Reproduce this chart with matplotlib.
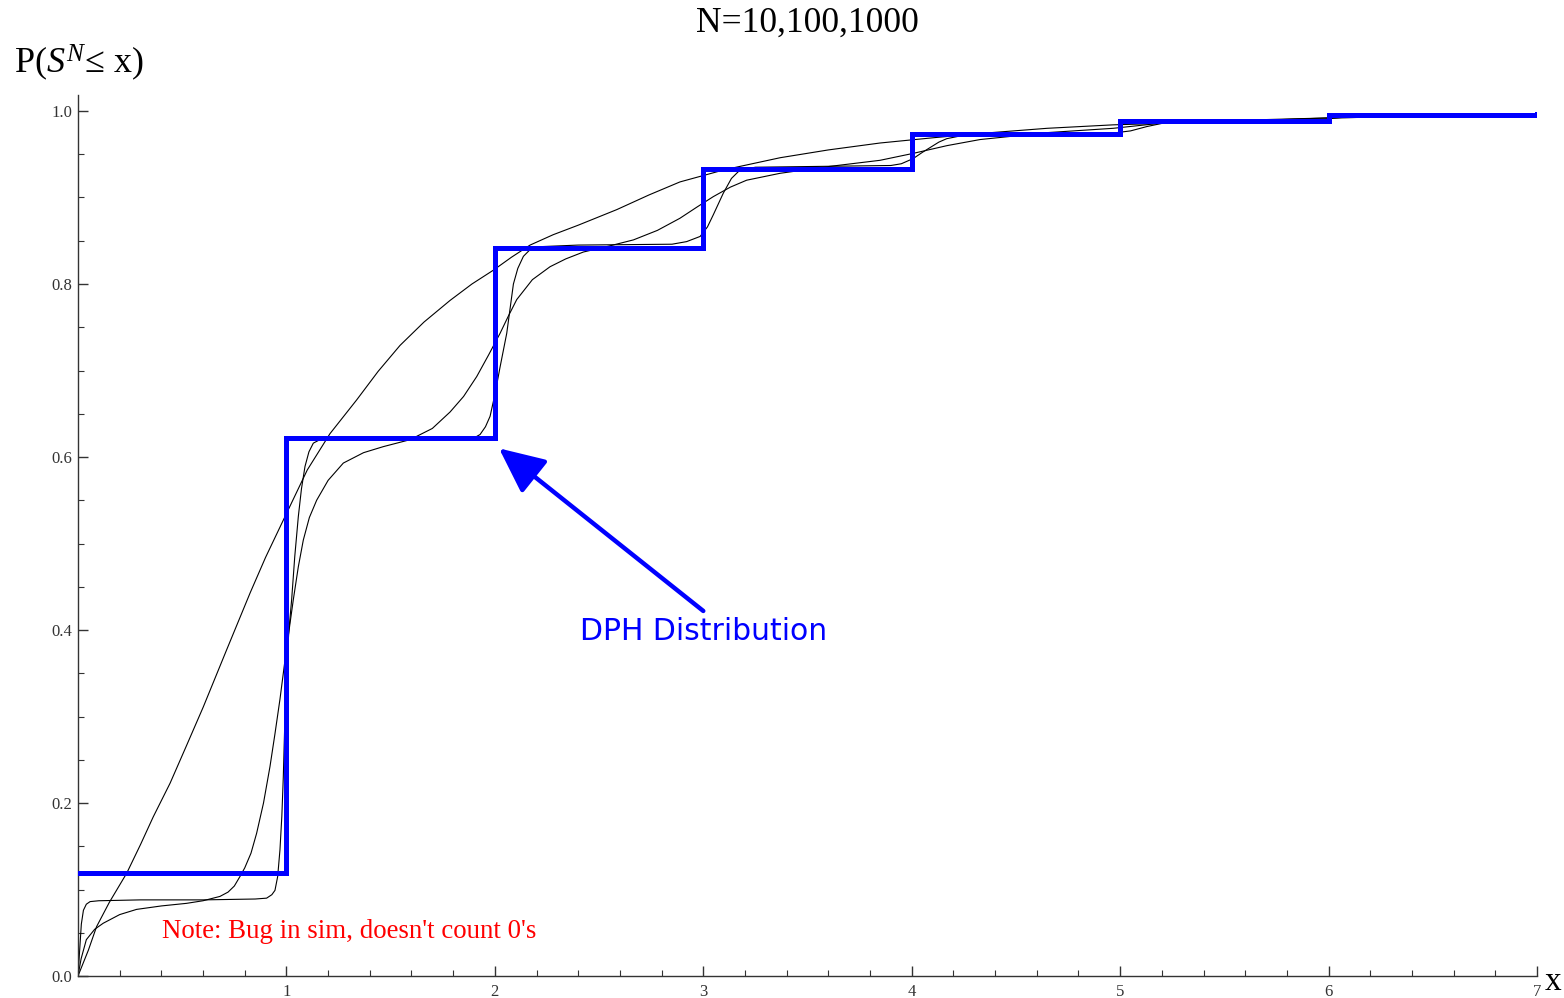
import numpy as np
import matplotlib
matplotlib.use("Agg")
from matplotlib import pyplot as plt
from matplotlib.ticker import MultipleLocator

plt.rcParams['font.family'] = ['Liberation Serif', 'DejaVu Serif']
plt.rcParams['mathtext.fontset'] = 'custom'
plt.rcParams['mathtext.rm'] = 'Liberation Serif'
plt.rcParams['mathtext.it'] = 'Liberation Serif:italic'

# DPH step distribution, value on [k, k+1)
step_x = [0, 1, 2, 3, 4, 5, 6, 7]
step_y = [0.119, 0.622, 0.842, 0.933, 0.973, 0.988, 0.995, 0.996]

# simulated CDFs
n10_x = [0, 0.05, 0.089, 0.15, 0.234, 0.3, 0.361, 0.442, 0.52, 0.601, 0.713, 0.826, 0.9,
         0.985, 1.1, 1.209, 1.337, 1.44, 1.545, 1.66, 1.785, 1.89, 1.993, 2.08, 2.169,
         2.28, 2.4, 2.585, 2.74, 2.888, 3.1, 3.369, 3.6, 3.848, 4.1, 4.328, 4.65, 4.967,
         5.528, 6.0, 6.5, 7.0]
n10_y = [0, 0.03, 0.057, 0.085, 0.119, 0.152, 0.184, 0.223, 0.266, 0.311, 0.377, 0.443,
         0.484, 0.527, 0.585, 0.627, 0.666, 0.699, 0.729, 0.756, 0.781, 0.8, 0.816, 0.831,
         0.845, 0.857, 0.868, 0.886, 0.903, 0.918, 0.932, 0.946, 0.955, 0.963, 0.969,
         0.974, 0.98, 0.984, 0.988, 0.992, 0.994, 0.996]

n100_x = [0, 0.015, 0.04, 0.08, 0.121, 0.2, 0.281, 0.4, 0.521, 0.6, 0.681, 0.72, 0.75,
          0.777, 0.8, 0.83, 0.857, 0.89, 0.921, 0.945, 0.969, 1.0, 1.033, 1.057, 1.081,
          1.11, 1.145, 1.2, 1.273, 1.37, 1.465, 1.593, 1.7, 1.785, 1.85, 1.913, 1.97,
          2.025, 2.065, 2.105, 2.18, 2.265, 2.34, 2.425, 2.55, 2.665, 2.78, 2.888, 2.97,
          3.048, 3.13, 3.208, 3.369, 3.608, 3.848, 4.007, 4.17, 4.328, 4.65, 4.967, 5.2,
          5.528, 6.0, 7.0]
n100_y = [0, 0.02, 0.042, 0.054, 0.061, 0.071, 0.077, 0.081, 0.084, 0.087, 0.092, 0.097,
          0.104, 0.115, 0.125, 0.142, 0.165, 0.2, 0.242, 0.28, 0.32, 0.378, 0.435, 0.473,
          0.504, 0.53, 0.55, 0.573, 0.593, 0.605, 0.612, 0.62, 0.633, 0.652, 0.67, 0.693,
          0.718, 0.743, 0.763, 0.782, 0.805, 0.82, 0.829, 0.837, 0.844, 0.851, 0.862,
          0.876, 0.889, 0.901, 0.912, 0.92, 0.928, 0.936, 0.943, 0.951, 0.96, 0.967,
          0.975, 0.98, 0.986, 0.989, 0.992, 0.996]

n1000_x = [0, 0.008, 0.016, 0.026, 0.04, 0.058, 0.1, 0.3, 0.6, 0.85, 0.905, 0.93, 0.945,
           0.958, 0.969, 0.978, 0.985, 0.993, 1.001, 1.012, 1.025, 1.04, 1.057, 1.072,
           1.089, 1.108, 1.129, 1.16, 1.2, 1.9, 1.929, 1.955, 1.977, 2.0, 2.025, 2.057,
           2.089, 2.11, 2.137, 2.17, 2.201, 2.4, 2.85, 2.92, 2.985, 3.02, 3.048, 3.096,
           3.135, 3.177, 3.25, 3.9, 3.95, 4.007, 4.05, 4.09, 4.13, 4.168, 4.25, 4.95,
           5.05, 5.128, 5.207, 5.3, 5.9, 6.0, 6.08, 6.2, 7.0]
n1000_y = [0, 0.03, 0.06, 0.076, 0.083, 0.086, 0.087, 0.088, 0.088, 0.089, 0.09, 0.094,
           0.099, 0.115, 0.146, 0.185, 0.23, 0.3, 0.358, 0.4, 0.435, 0.485, 0.531, 0.563,
           0.589, 0.606, 0.616, 0.62, 0.621, 0.622, 0.626, 0.635, 0.647, 0.672, 0.704,
           0.743, 0.8, 0.818, 0.832, 0.84, 0.843, 0.845, 0.846, 0.849, 0.855, 0.866, 0.88,
           0.905, 0.922, 0.932, 0.935, 0.937, 0.939, 0.945, 0.952, 0.958, 0.964, 0.968,
           0.972, 0.974, 0.977, 0.982, 0.986, 0.988, 0.989, 0.991, 0.993, 0.994, 0.996]

fig = plt.figure(figsize=(15.64, 9.98), dpi=100)
ax = fig.add_axes([78 / 1564, 22 / 998, 1459 / 1564, 881 / 998])

for xs, ys in [(n10_x, n10_y), (n100_x, n100_y), (n1000_x, n1000_y)]:
    ax.plot(xs, ys, color='black', lw=0.8, zorder=2, solid_joinstyle='round')

ax.step(step_x, step_y, where='post', color='#0000ff', lw=3.6, zorder=3,
        solid_joinstyle='miter')

ax.set_xlim(0, 7)
ax.set_ylim(0, 881 / 865)

for s in ['top', 'right']:
    ax.spines[s].set_visible(False)
for s in ['left', 'bottom']:
    ax.spines[s].set_color('#333333')
    ax.spines[s].set_linewidth(1.0)

ax.xaxis.set_minor_locator(MultipleLocator(0.2))
ax.yaxis.set_minor_locator(MultipleLocator(0.05))
ax.set_yticks([0, 0.2, 0.4, 0.6, 0.8, 1.0])
ax.set_yticklabels(['0.0', '0.2', '0.4', '0.6', '0.8', '1.0'])
ax.set_xticks([1, 2, 3, 4, 5, 6, 7])
ax.tick_params(which='major', direction='in', length=7, width=1, color='#333333',
               labelsize=12, labelcolor='#333333')
ax.tick_params(axis='x', which='major', pad=6)
ax.tick_params(axis='y', which='major', pad=4)
ax.tick_params(which='minor', direction='in', length=4, width=0.8, color='#333333')

fig.text(807 / 1564, 1 - 23 / 998, 'N=10,100,1000', ha='center', va='center',
         fontsize=25.5)
fig.text(14 / 1564, 1 - 63 / 998, r'P($S^{N}$' + '\u2264 x)', ha='left', va='center',
         fontsize=26)
fig.text(1545 / 1564, 1 - 982 / 998, 'x', ha='left', va='center', fontsize=24)

ax.annotate('', xy=(2.02, 0.61), xytext=(3.0, 0.422),
            arrowprops=dict(arrowstyle='-|>,head_length=2.8,head_width=1.3',
                            color='#0000ff', lw=3.2, shrinkA=0, shrinkB=0))
ax.text(3.0, 0.398, 'DPH Distribution', color='#0000ff', ha='center', va='center',
        fontsize=21.5, family=['DejaVu Sans'])
ax.text(0.405, 0.051, "Note: Bug in sim, doesn't count 0's", color='#ff0000',
        ha='left', va='center', fontsize=19.4)

fig.savefig('out.png', dpi=100)
